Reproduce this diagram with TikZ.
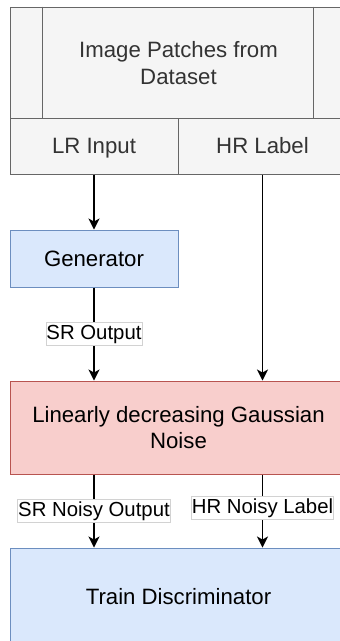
\documentclass[tikz,border=0pt]{standalone}
\usepackage{fontspec}
\setmainfont{Liberation Sans}
\usetikzlibrary{arrows.meta,calc}
\definecolor{grayfill}{HTML}{F5F5F5}
\definecolor{graystroke}{HTML}{666666}
\definecolor{graytext}{HTML}{333333}
\definecolor{bluefill}{HTML}{DAE8FC}
\definecolor{bluestroke}{HTML}{6C8EBF}
\definecolor{redfill}{HTML}{F8CECC}
\definecolor{redstroke}{HTML}{B85450}
\tikzset{
  box/.style={rectangle, line width=1pt, inner sep=0pt, align=center,
    font=\fontsize{22.2}{26.6}\selectfont},
  oneline/.style={text height=20pt, text depth=4.1pt},
  graybox/.style={box, fill=grayfill, draw=graystroke, text=graytext},
  bluebox/.style={box, fill=bluefill, draw=bluestroke},
  redbox/.style={box, fill=redfill, draw=redstroke},
  conn/.style={line width=1.2pt, -{Stealth[length=11pt,width=11pt,inset=3pt]}},
  lbl/.style={fill=white, draw=gray!35, line width=0.5pt, inner xsep=0.5pt, inner ysep=1.5pt,
    text height=15.5pt, text depth=4.5pt, font=\fontsize{20.35}{24}\selectfont}
}
\begin{document}
\begin{tikzpicture}[x=1pt,y=-1pt]
\useasboundingbox (0,0) rectangle (340,641);
\node[graybox, minimum width=337pt, minimum height=112pt] (patches) at (178.5,63) {Image Patches from\\Dataset};
\draw[graystroke, line width=1pt] ($(patches.north west)+(33,0)$) -- ($(patches.south west)+(33,0)$);
\draw[graystroke, line width=1pt] ($(patches.north east)+(-34,0)$) -- ($(patches.south east)+(-34,0)$);
\node[graybox, oneline, minimum width=168pt, minimum height=56pt] (lr) at (94,146) {LR Input};
\node[graybox, oneline, minimum width=169pt, minimum height=56pt] (hr) at (262.5,146) {HR Label};
\node[bluebox, oneline, minimum width=168pt, minimum height=57pt] (gen) at (94,258.5) {Generator};
\node[redbox, minimum width=337pt, minimum height=93pt] (noise) at (178.5,427.5) {Linearly decreasing Gaussian\\Noise};
\node[bluebox, oneline, minimum width=337pt, minimum height=97pt] (disc) at (178.5,596.5) {Train Discriminator};
\draw[conn] (lr.south) -- (gen.north);
\draw[conn] (hr.south) -- (hr.south |- noise.north);
\draw[conn] (gen.south) -- (gen.south |- noise.north) node[lbl, midway] (srout) {SR Output};
\draw[conn] (gen.south |- noise.south) -- (gen.south |- disc.north) node[lbl, midway] (srnoisy) {SR Noisy Output};
\draw[conn] (hr.south |- noise.south) -- (hr.south |- disc.north) node[lbl, pos=0.46] (hrnoisy) {HR Noisy Label};
\end{tikzpicture}
\end{document}
